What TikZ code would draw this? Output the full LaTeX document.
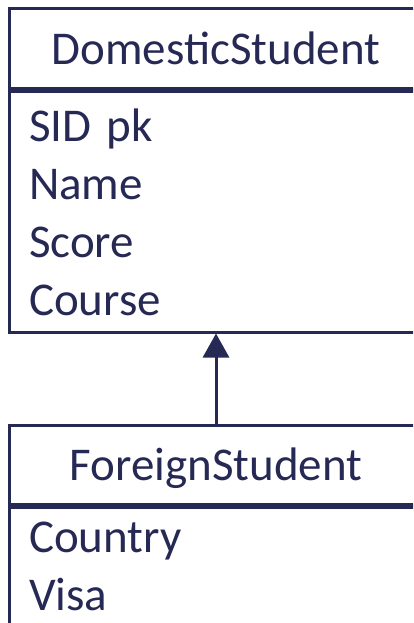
\documentclass[tikz,border=0pt]{standalone}
\usepackage{fontspec}
\setmainfont{Carlito}
\usepackage{tikz}
\usetikzlibrary{arrows.meta}
\usetikzlibrary{positioning}

\definecolor{umlnavy}{RGB}{38,41,84}

\tikzset{
	classhead/.style={draw=umlnavy, line width=3pt, text=umlnavy, minimum width=414pt, minimum height=80pt,
		inner sep=0pt, text height=31pt, text depth=0pt, font=\fontsize{47pt}{58pt}\selectfont},
	classbody/.style={draw=umlnavy, line width=3pt, text=umlnavy, anchor=north, text width=374pt, align=left,
		inner xsep=20pt, text height=34pt, font=\fontsize{47pt}{58pt}\selectfont},
	inherit/.style={draw=umlnavy, line width=3pt, -{Triangle[width=26pt,length=24pt]}}
}

\begin{document}
\begin{tikzpicture}[x=1pt,y=-1pt]
		
		\useasboundingbox (0,0) rectangle (413,623);
		\clip (0,0) rectangle (413,623);
		
		\node[classhead] (domhead) at (216,49) {DomesticStudent};
		\node[classbody, below=0pt of domhead, inner ysep=15pt, text depth=176pt] (domattr) {SID pk\\Name\\Score\\Course};
		
		\node[classhead, minimum height=79pt] (forhead) at (216,465) {ForeignStudent};
		\node[classbody, below=0pt of forhead, inner ysep=10.5pt, text depth=150pt] (forattr) {Country\\Visa};
		
		\draw[inherit] (forhead.north) -- (domattr.south); %generalisation
\end{tikzpicture}
\end{document}
